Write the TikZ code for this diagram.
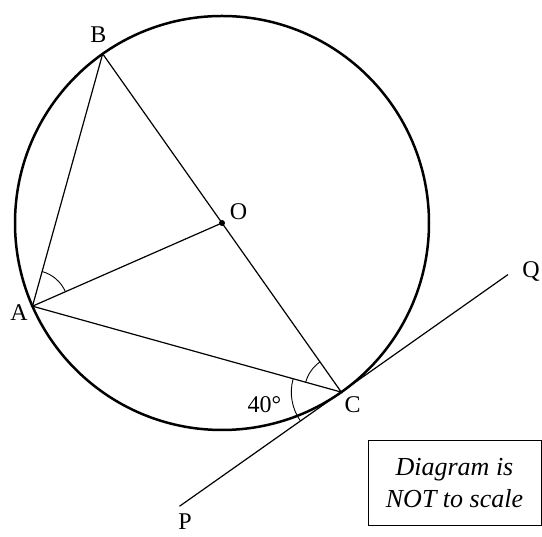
\documentclass[tikz,border=0pt]{standalone}
\usepackage{fontspec}
\setmainfont{Liberation Serif}
\usetikzlibrary{calc,angles}
\tikzset{
  rim/.style={line width=2.5pt},
  chord/.style={line width=1.2pt},
  tanline/.style={line width=1.2pt},
  angarc/.style={draw, line width=0.9pt},
  ptlab/.style={font=\fontsize{24}{28}\selectfont, inner sep=1pt},
  notebox/.style={draw, line width=1pt, align=center, inner sep=0pt,
    minimum width=173pt, minimum height=84.7pt,
    font=\fontsize{26}{31.5}\selectfont\itshape},
}

\begin{document}
\begin{tikzpicture}[x=1pt,y=1pt]
  \useasboundingbox (0,0) rectangle (542,537);
  % circle, centre and points on it
  \coordinate (O) at (222,314);
  \coordinate (B) at ($(O)+(125.2:207)$);
  \coordinate (C) at ($(O)+(305.2:207)$);
  \coordinate (A) at ($(O)+(203.7:207)$);
  \coordinate (Q) at ($(C)+(35.2:204)$);
  \coordinate (P) at ($(C)+(215.2:198)$);
  \draw[rim] (O) circle[radius=207pt];
  % chords and tangent
  \draw[chord] (A) -- (B) -- (C) -- (A) -- (O);
  \draw[tanline] (P) -- (Q);
  \fill (O) circle[radius=3pt];
  % angle marks
  \pic[angarc, angle radius=36pt] {angle=O--A--B};
  \pic[angarc, angle radius=37pt] {angle=O--C--A};
  \pic[angarc, angle radius=50pt] {angle=A--C--P};
  % labels
  \node[ptlab] (labB) at (98.5,502.4) {B};
  \node[ptlab] (labA) at (19,224.2) {A};
  \node[ptlab] (labO) at (238.5,325.5) {O};
  \node[ptlab] (labC) at (352.6,132.6) {C};
  \node[ptlab] (labQ) at (531,265) {Q};
  \node[ptlab] (labP) at (185,15) {P};
  \node[ptlab] (labang) at (264.4,132.6) {40°};
  \node[notebox] (note) at (454.5,54) {Diagram is\\NOT to scale};
\end{tikzpicture}
\end{document}
